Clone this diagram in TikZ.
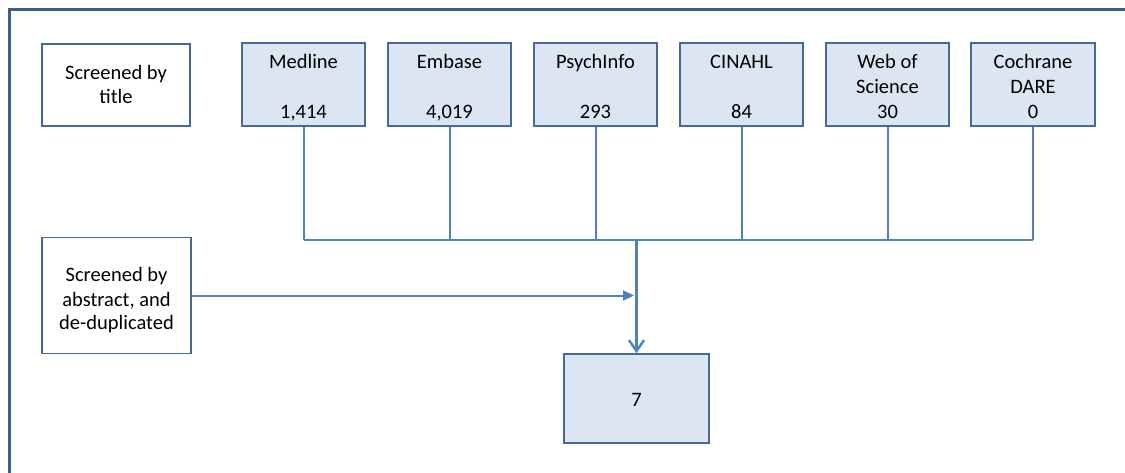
\documentclass[tikz,border=0pt]{standalone}
\usepackage{fontspec}
\setmainfont{Carlito}
\usetikzlibrary{arrows.meta}
\definecolor{frameblue}{HTML}{3E5E8C}
\definecolor{boxedge}{HTML}{46689A}
\definecolor{linkblue}{HTML}{4F81BD}
\definecolor{boxfill}{HTML}{DCE6F2}
\begin{document}
\begin{tikzpicture}[x=1pt,y=-1pt,
  box/.style={draw=boxedge, line width=1.5pt, inner sep=0pt},
  dbbox/.style={box, fill=boxfill, minimum width=123pt, minimum height=83pt},
  wbox/.style={box, fill=white},
  txt/.style={anchor=base, inner sep=0pt, font=\fontsize{20.5}{24.5}\selectfont, text=black},
  link/.style={draw=linkblue, line width=2pt},
]
\useasboundingbox (0,0) rectangle (1125,473);
\clip (0,0) rectangle (1125,473);
\fill[white] (0,0) rectangle (1125,473);
\draw[frameblue, line width=3pt] (9.5,9.5) rectangle (1160,520);

% boxes
\node[wbox, minimum width=148pt, minimum height=82pt] (title) at (116,85) {};
\node[dbbox] (med) at (303.5,84.5) {};
\node[dbbox] (emb) at (449.5,84.5) {};
\node[dbbox] (psy) at (595.5,84.5) {};
\node[dbbox] (cin) at (741.5,84.5) {};
\node[dbbox] (wos) at (887.5,84.5) {};
\node[dbbox, minimum width=124pt] (coc) at (1033,84.5) {};
\node[wbox, minimum width=149pt, minimum height=116pt] (abs) at (116.5,295.5) {};
\node[box, fill=boxfill, minimum width=145pt, minimum height=89pt] (seven) at (636.5,398.5) {};

% texts
\node[txt] (t1) at (116,80) {Screened by};
\node[txt] (t2) at (116,104) {title};
\node[txt] (medA) at (303.5,69) {Medline};
\node[txt] (medB) at (303.5,119) {1,414};
\node[txt] (embA) at (449.5,69) {Embase};
\node[txt] (embB) at (449.5,119) {4,019};
\node[txt] (psyA) at (595.5,69) {PsychInfo};
\node[txt] (psyB) at (595.5,119) {293};
\node[txt] (cinA) at (741.5,69) {CINAHL};
\node[txt] (cinB) at (741.5,119) {84};
\node[txt] (wosA) at (887.5,69) {Web of};
\node[txt] (wosB) at (887.5,94) {Science};
\node[txt] (wosC) at (887.5,119) {30};
\node[txt] (cocA) at (1033,69) {Cochrane};
\node[txt] (cocB) at (1033,94) {DARE};
\node[txt] (cocC) at (1033,119) {0};
\node[txt] (a1) at (116.5,282) {Screened by};
\node[txt] (a2) at (116.5,306) {abstract, and};
\node[txt] (a3) at (116.5,330) {de-duplicated};
\node[txt] (s7) at (636.5,406) {7};

% connectors
\coordinate (busL) at (303.5,240.5);
\coordinate (busR) at (1033,240.5);
\coordinate (hit) at (634,295.5);
\draw[link] (busL) -- (busR);
\foreach \n in {med,emb,psy,cin,wos,coc}
  \draw[link] (\n.south) -- (\n.south |- busL);
\draw[link, line width=2.4pt, -{Straight Barb[length=11pt,width=15pt,line width=2.4pt]}] (seven.north |- busL) -- (seven.north);
\draw[link, -{Triangle[length=11pt,width=10pt]}] (abs.east) -- (hit);
\end{tikzpicture}
\end{document}
